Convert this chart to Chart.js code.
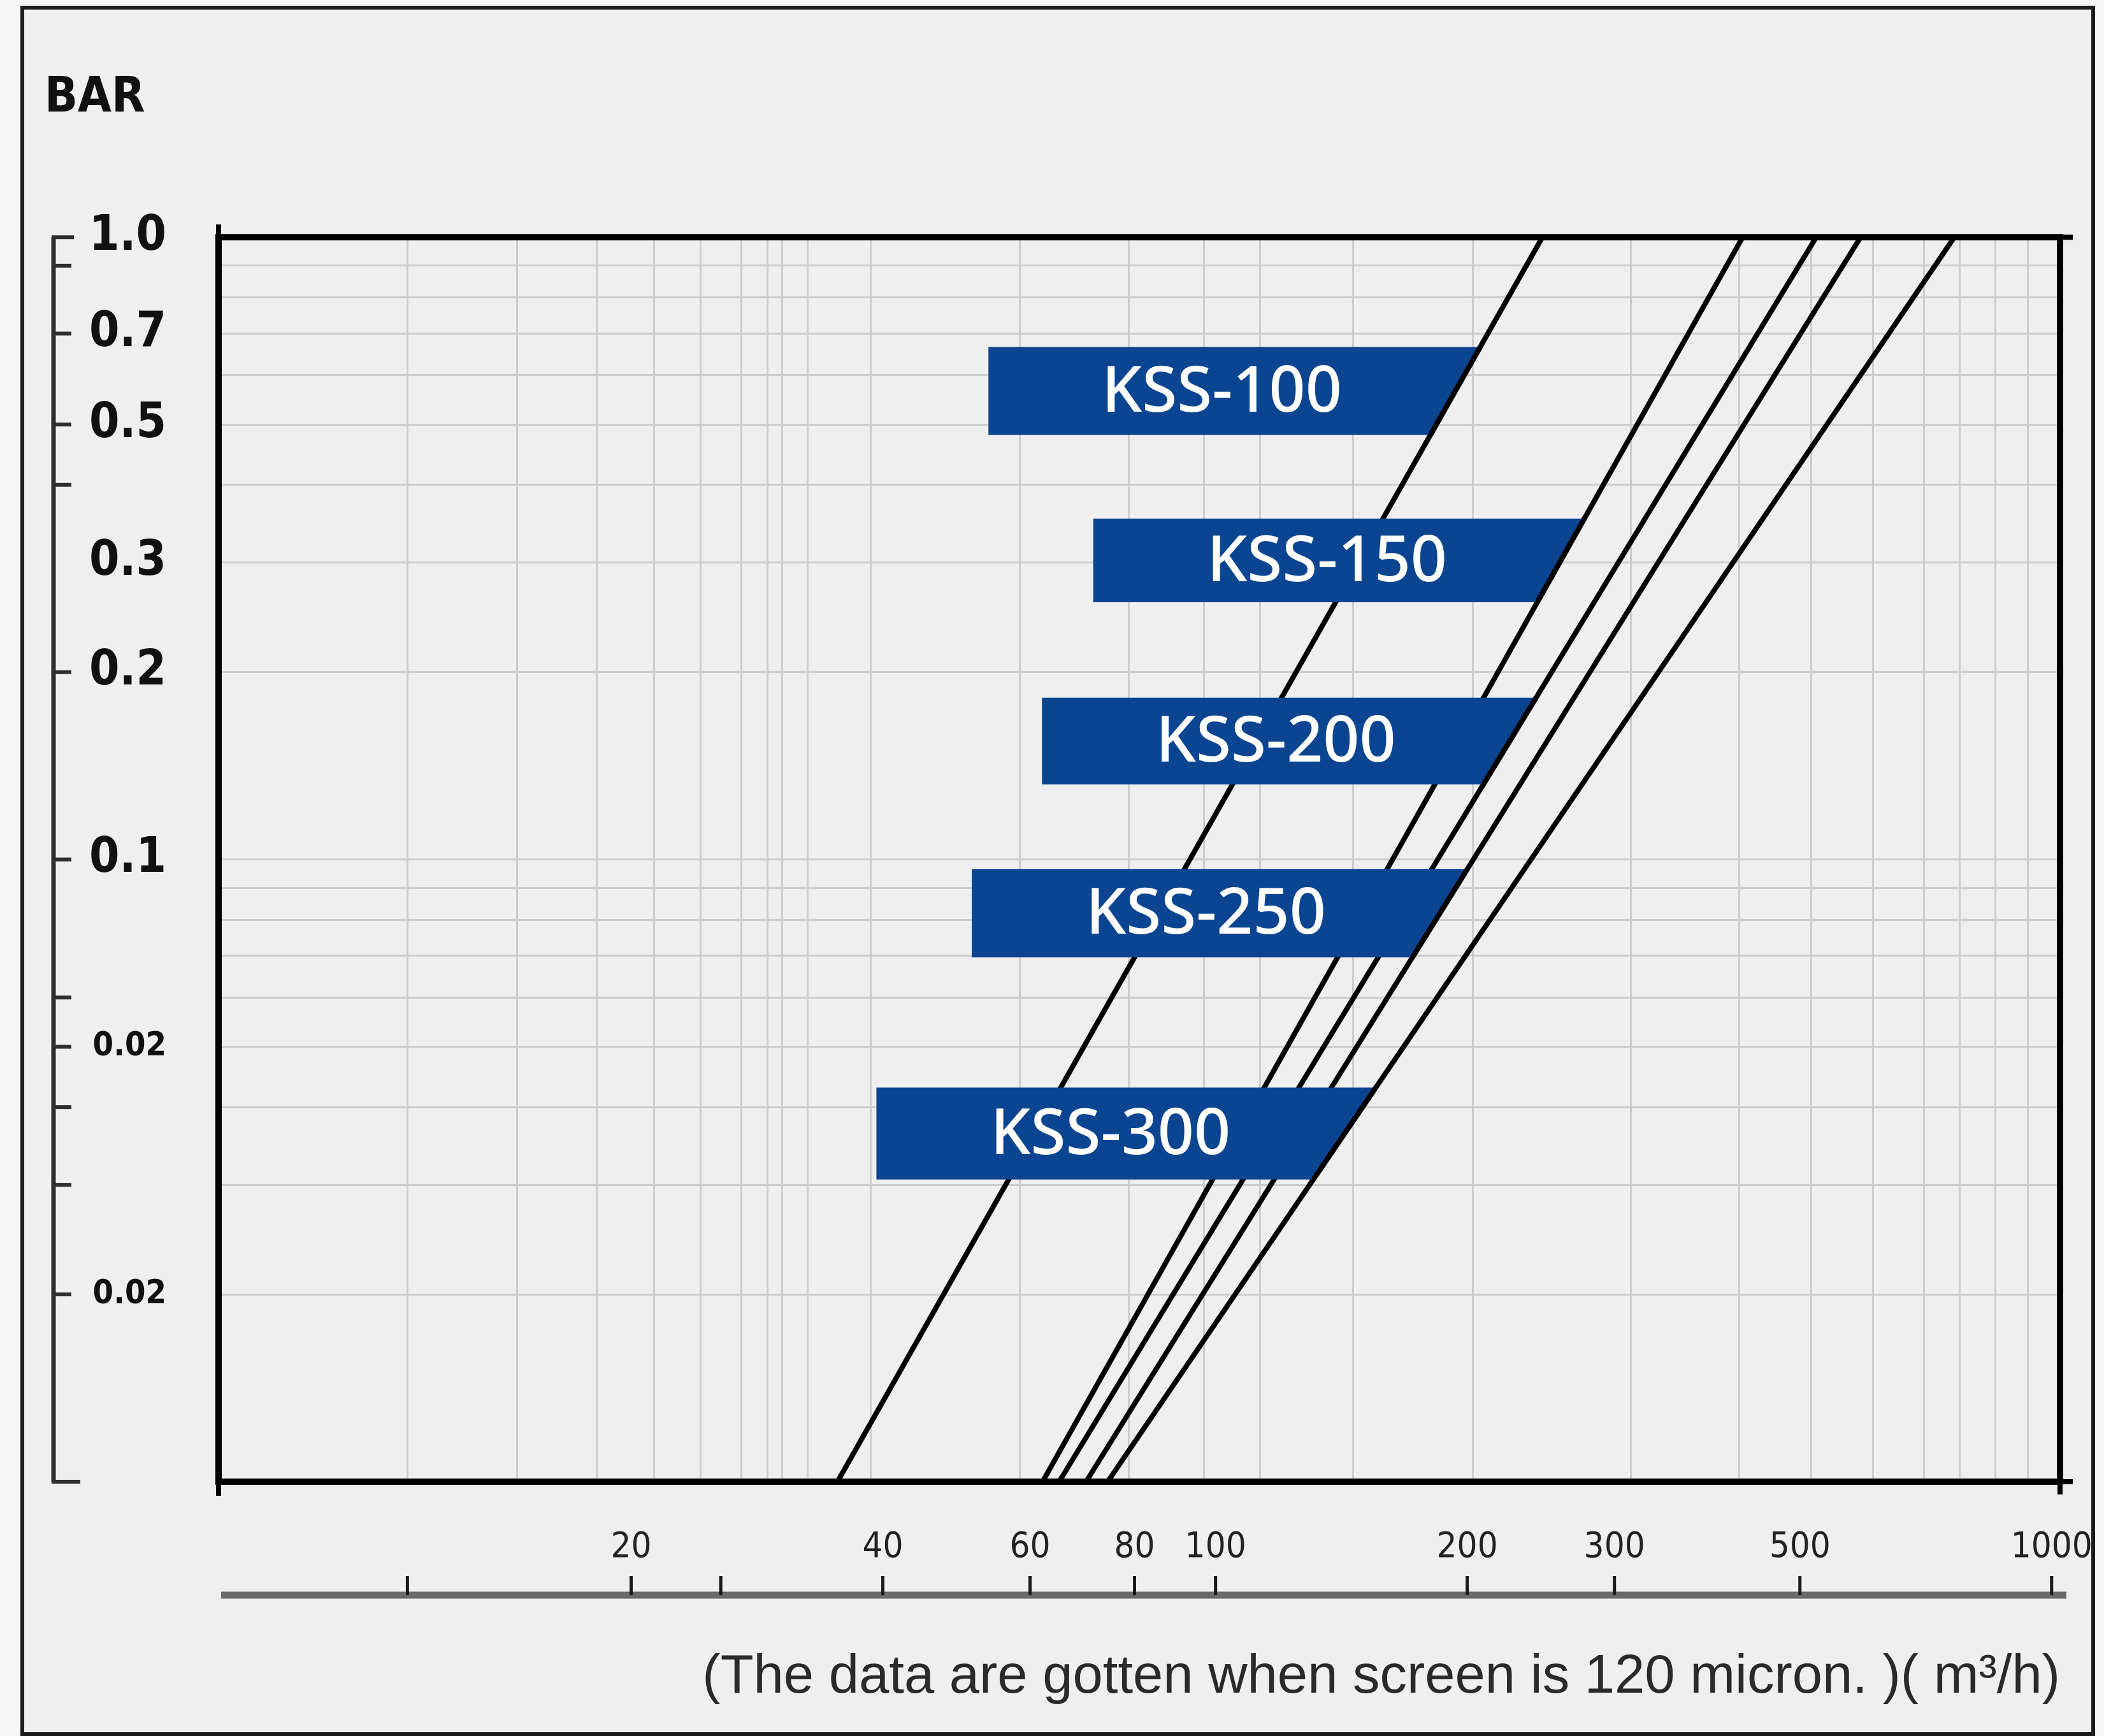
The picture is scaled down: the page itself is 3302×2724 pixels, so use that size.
<!DOCTYPE html>
<html lang="en">
<head>
<meta charset="UTF-8">
<title>KSS filters - pressure loss vs flow</title>
<script src="https://cdn.jsdelivr.net/npm/chart.js@4.4.1/dist/chart.umd.min.js"></script>
<style>
  html, body { margin: 0; padding: 0; background: #f6f6f6; }
  #wrap { width: 3302px; height: 2724px; }
</style>
</head>
<body>
<div id="wrap"><canvas id="myChart"></canvas></div>

<script>
// filter models, one straight line each
const models = ['KSS-100', 'KSS-150', 'KSS-200', 'KSS-250', 'KSS-300'];
// flow (m3/h) where each line crosses the bottom (0.01 bar) and the top (1.0 bar)
const flowAtLowP = [35.3, 62.1, 65.0, 70.0, 74.3];
const flowAtHighP = [246, 427, 523, 591, 765];
const pressureEnds = [0.01, 1.0];

// blue name boxes: flow where the box starts, pressure at its top / bottom
const bannerFlow = [53.5, 71.4, 62.0, 51.1, 39.3];
const bannerTopP = [0.666, 0.353, 0.182, 0.0965, 0.043];
const bannerBottomP = [0.481, 0.259, 0.132, 0.0696, 0.0306];

// axes
const flowRange = [6.42, 1023.5];
const pressureRange = [0.01, 1.0];
const xTicks = [20, 40, 60, 80, 100, 200, 300, 500, 1000];
const xTickLabels = ['20', '40', '60', '80', '100', '200', '300', '500', '1000'];
const xExtraMarks = [10.8, 25.6];
const yTicks = [1, 0.7, 0.5, 0.3, 0.2, 0.1, 0.05, 0.02];
const yTickLabels = ['1.0', '0.7', '0.5', '0.3', '0.2', '0.1', '0.02', '0.02'];
const yBracketMarks = [1, 0.9, 0.7, 0.5, 0.4, 0.2, 0.1, 0.06, 0.05, 0.04, 0.03, 0.02, 0.01];
const xGrid = [10.8, 14.6, 18.2, 21.3, 24.2, 27.1, 29.1, 30.3, 32.5, 38.7, 58.3, 78.8, 96.9, 113, 146, 203, 314, 423, 516, 611, 704, 777, 856, 936];
const yGrid = [0.9, 0.8, 0.7, 0.6, 0.5, 0.4, 0.3, 0.2, 0.1, 0.09, 0.08, 0.07, 0.06, 0.05, 0.04, 0.03, 0.02];

const narrow = '"Liberation Sans Narrow", "DejaVu Sans Condensed", sans-serif';

const decor = {
  id: 'decor',
  beforeDraw(chart) {
    const ctx = chart.ctx;
    ctx.save();
    ctx.fillStyle = '#f6f6f6';
    ctx.fillRect(0, 0, chart.width, chart.height);
    ctx.fillStyle = '#efefef';
    ctx.fillRect(35, 12, 3250, 2709);
    ctx.strokeStyle = '#1c1c1c';
    ctx.lineWidth = 6;
    ctx.strokeRect(35, 12, 3250, 2709);
    ctx.restore();
  },
  afterDatasetsDraw(chart) {
    const { ctx, chartArea: a, scales: { x, y } } = chart;
    ctx.save();

    // name boxes, right edge follows the model's own line
    models.forEach((name, i) => {
      const x0 = x.getPixelForValue(flowAtLowP[i]), y0 = y.getPixelForValue(pressureEnds[0]);
      const x1 = x.getPixelForValue(flowAtHighP[i]), y1 = y.getPixelForValue(pressureEnds[1]);
      const edgeX = py => x0 + (x1 - x0) * (py - y0) / (y1 - y0);
      const left = x.getPixelForValue(bannerFlow[i]);
      const top = y.getPixelForValue(bannerTopP[i]);
      const bot = y.getPixelForValue(bannerBottomP[i]);
      ctx.fillStyle = '#0b4592';
      ctx.beginPath();
      ctx.moveTo(left, top);
      ctx.lineTo(edgeX(top), top);
      ctx.lineTo(edgeX(bot), bot);
      ctx.lineTo(left, bot);
      ctx.closePath();
      ctx.fill();
      ctx.strokeStyle = '#000';
      ctx.lineWidth = 8;
      ctx.beginPath();
      ctx.moveTo(edgeX(top), top);
      ctx.lineTo(edgeX(bot), bot);
      ctx.stroke();
      ctx.fillStyle = '#ffffff';
      ctx.font = '500 100px "Noto Sans", sans-serif';
      ctx.textAlign = 'center';
      ctx.textBaseline = 'middle';
      ctx.fillText(name, (left + (edgeX(top) + edgeX(bot)) / 2) / 2, (top + bot) / 2 + 4);
    });

    // plot frame with little corner stubs
    ctx.strokeStyle = '#000';
    ctx.lineWidth = 10;
    ctx.strokeRect(a.left, a.top, a.right - a.left, a.bottom - a.top);
    ctx.lineWidth = 8;
    ctx.beginPath();
    ctx.moveTo(a.left, a.top); ctx.lineTo(a.left, a.top - 20);
    ctx.moveTo(a.left, a.bottom); ctx.lineTo(a.left, a.bottom + 22);
    ctx.moveTo(a.right, a.top); ctx.lineTo(a.right + 20, a.top);
    ctx.moveTo(a.right, a.bottom); ctx.lineTo(a.right + 20, a.bottom);
    ctx.moveTo(a.right, a.bottom); ctx.lineTo(a.right, a.bottom + 20);
    ctx.stroke();

    // left bracket scale
    const bx = 84;
    ctx.strokeStyle = '#2e2e2e';
    ctx.lineWidth = 7;
    ctx.beginPath();
    ctx.moveTo(bx, y.getPixelForValue(pressureRange[1]));
    ctx.lineTo(bx, y.getPixelForValue(pressureRange[0]));
    ctx.stroke();
    ctx.lineWidth = 6;
    yBracketMarks.forEach(v => {
      const py = y.getPixelForValue(v);
      const len = (v === pressureRange[0]) ? 42 : (v === pressureRange[1] ? 32 : 28);
      ctx.beginPath();
      ctx.moveTo(bx - 3, py);
      ctx.lineTo(bx + len, py);
      ctx.stroke();
    });

    // detached flow axis under the plot
    const ly = a.bottom + 178;
    ctx.strokeStyle = '#6a6a6a';
    ctx.lineWidth = 11;
    ctx.beginPath();
    ctx.moveTo(a.left + 4, ly);
    ctx.lineTo(a.right + 10, ly);
    ctx.stroke();
    ctx.strokeStyle = '#1a1a1a';
    ctx.lineWidth = 5;
    xExtraMarks.concat(xTicks).forEach(v => {
      const px = x.getPixelForValue(v);
      ctx.beginPath();
      ctx.moveTo(px, ly);
      ctx.lineTo(px, ly - 30);
      ctx.stroke();
    });
    ctx.restore();
  }
};

const ctx = document.getElementById('myChart').getContext('2d');
const chart = new Chart(ctx, {
  type: 'scatter',
  data: {
    datasets: models.map((name, i) => ({
      label: name,
      data: [
        { x: flowAtLowP[i], y: pressureEnds[0] },
        { x: flowAtHighP[i], y: pressureEnds[1] }
      ],
      showLine: true,
      borderColor: '#000',
      borderWidth: 8,
      pointRadius: 0
    }))
  },
  options: {
    responsive: true,
    maintainAspectRatio: false,
    animation: false,
    layout: { padding: { left: 70, right: 69, top: 0, bottom: 0 } },
    plugins: {
      legend: { display: false },
      tooltip: { enabled: false },
      title: {
        display: true,
        text: 'BAR',
        align: 'start',
        color: '#111',
        font: { family: narrow, size: 76, weight: 'bold' },
        padding: { top: 110, bottom: 171 }
      }
    },
    scales: {
      x: {
        type: 'logarithmic',
        position: 'bottom',
        min: flowRange[0], max: flowRange[1],
        afterBuildTicks: s => { s.ticks = xGrid.map(v => ({ value: v })); },
        ticks: { display: false },
        grid: { color: '#cdcdcd', lineWidth: 3, drawTicks: false },
        border: { display: false }
      },
      xl: {
        type: 'logarithmic',
        position: 'bottom',
        min: flowRange[0], max: flowRange[1],
        afterBuildTicks: s => { s.ticks = xTicks.map(v => ({ value: v })); },
        afterFit: s => { s.height = 399; s.paddingLeft = 0; s.paddingRight = 0; },
        ticks: {
          autoSkip: false, minRotation: 0, maxRotation: 0, padding: 70,
          color: '#222',
          font: { family: narrow, size: 56 },
          callback: (v, i) => xTickLabels[i]
        },
        grid: { display: false, drawTicks: false },
        border: { display: false },
        title: {
          display: true,
          text: '(The data are gotten when screen is 120 micron. )( m³/h)',
          align: 'end',
          color: '#2a2a2a',
          font: { family: '"Liberation Sans", Arial, sans-serif', size: 85 },
          padding: { top: 0, bottom: 40 }
        }
      },
      y: {
        type: 'logarithmic',
        position: 'left',
        min: pressureRange[0], max: pressureRange[1],
        afterBuildTicks: s => { s.ticks = yGrid.map(v => ({ value: v })); },
        afterFit: s => { s.width = 0; },
        ticks: { display: false },
        grid: { color: '#cdcdcd', lineWidth: 3, drawTicks: false },
        border: { display: false }
      },
      yl: {
        type: 'logarithmic',
        position: 'left',
        min: pressureRange[0], max: pressureRange[1],
        afterBuildTicks: s => { s.ticks = yTicks.map(v => ({ value: v })); },
        afterFit: s => { s.width = 273; s.paddingTop = 0; s.paddingBottom = 0; },
        ticks: {
          autoSkip: false, padding: 82,
          color: '#111',
          font: c => ({ family: narrow, size: c.index >= 6 ? 52 : 76, weight: 'bold' }),
          callback: (v, i) => yTickLabels[i]
        },
        grid: { display: false, drawTicks: false },
        border: { display: false }
      }
    }
  },
  plugins: [decor]
});
</script>
</body>
</html>
